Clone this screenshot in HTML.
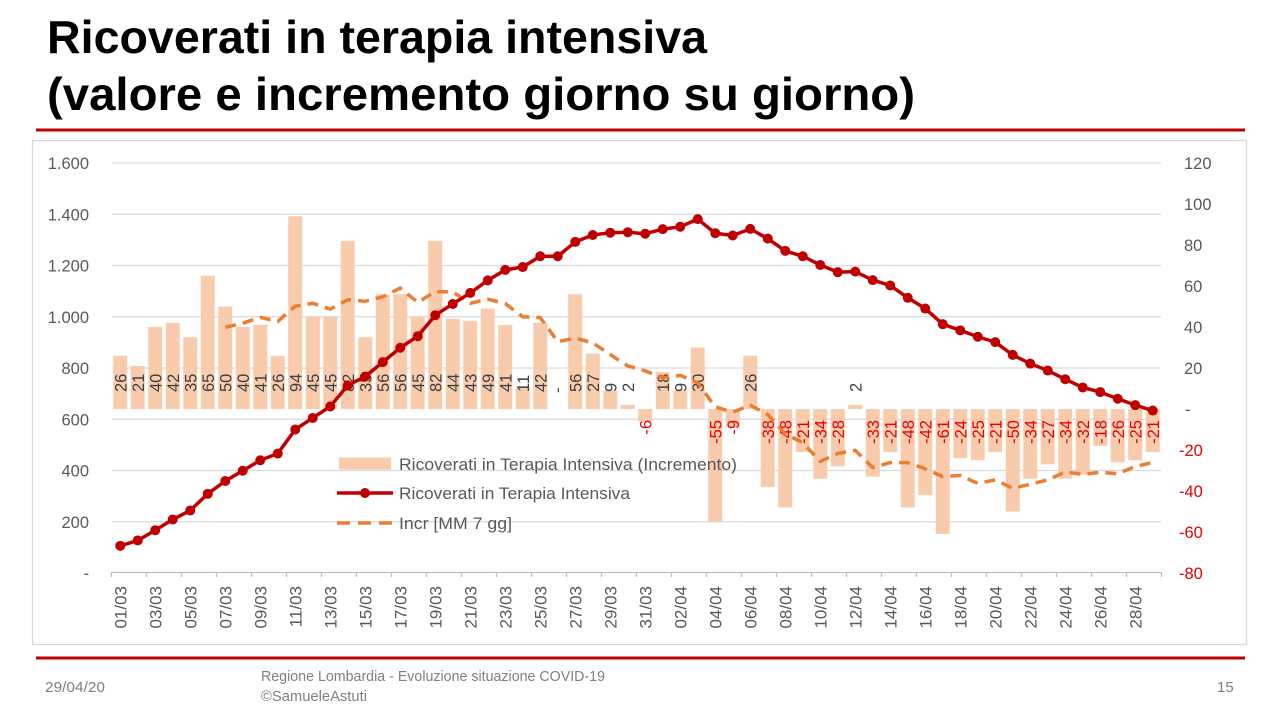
<!DOCTYPE html>
<html><head><meta charset="utf-8"><style>
html,body{margin:0;padding:0;background:#fff;}
svg{display:block;}
</style></head><body>
<svg width="1280" height="720" viewBox="0 0 1280 720" xmlns="http://www.w3.org/2000/svg" font-family="'Liberation Sans', sans-serif">
<rect width="1280" height="720" fill="#fff"/>
<!-- Title -->
<text x="47" y="53" font-size="46" font-weight="bold" fill="#000" textLength="660" lengthAdjust="spacingAndGlyphs">Ricoverati in terapia intensiva</text>
<text x="47" y="110" font-size="46" font-weight="bold" fill="#000" textLength="868" lengthAdjust="spacingAndGlyphs">(valore e incremento giorno su giorno)</text>
<line x1="36" y1="130" x2="1245" y2="130" stroke="#C00000" stroke-width="3"/>
<!-- chart box -->
<rect x="32.5" y="140.5" width="1214" height="504" fill="#fff" stroke="#D9D9D9" stroke-width="1.3"/>
<!-- gridlines -->
<g stroke="#D9D9D9" stroke-width="1.3">
<line x1="111.5" y1="163" x2="1161" y2="163"/>
<line x1="111.5" y1="214.25" x2="1161" y2="214.25"/>
<line x1="111.5" y1="265.5" x2="1161" y2="265.5"/>
<line x1="111.5" y1="316.75" x2="1161" y2="316.75"/>
<line x1="111.5" y1="368" x2="1161" y2="368"/>
<line x1="111.5" y1="419.25" x2="1161" y2="419.25"/>
<line x1="111.5" y1="470.5" x2="1161" y2="470.5"/>
<line x1="111.5" y1="521.75" x2="1161" y2="521.75"/>
</g>
<!-- x axis -->
<g stroke="#BFBFBF" stroke-width="1.3">
<line x1="111.5" y1="572.5" x2="1161.5" y2="572.5"/>
<path d="M111.5 572v5M146.5 572v5M181.5 572v5M216.5 572v5M251.5 572v5M286.5 572v5M321.5 572v5M356.5 572v5M391.5 572v5M426.5 572v5M461.5 572v5M496.5 572v5M531.5 572v5M566.5 572v5M601.5 572v5M636.5 572v5M671.5 572v5M706.5 572v5M741.5 572v5M776.5 572v5M811.5 572v5M846.5 572v5M881.5 572v5M916.5 572v5M951.5 572v5M986.5 572v5M1021.5 572v5M1056.5 572v5M1091.5 572v5M1126.5 572v5M1161.5 572v5"/>
</g>
<!-- left axis labels -->
<g font-size="16.5" fill="#595959" text-anchor="end">
<text x="89" y="169">1.600</text>
<text x="89" y="220.25">1.400</text>
<text x="89" y="271.5">1.200</text>
<text x="89" y="322.75">1.000</text>
<text x="89" y="374">800</text>
<text x="89" y="425.25">600</text>
<text x="89" y="476.5">400</text>
<text x="89" y="527.75">200</text>
<text x="89" y="579">-</text>
</g>
<!-- right axis labels -->
<g font-size="16.5" fill="#595959">
<text x="1184" y="169">120</text>
<text x="1184" y="210">100</text>
<text x="1184" y="251">80</text>
<text x="1184" y="292">60</text>
<text x="1184" y="333">40</text>
<text x="1184" y="374">20</text>
<text x="1185" y="415">-</text>
</g>
<g font-size="16.5" fill="#E60000">
<text x="1179" y="456">-20</text>
<text x="1179" y="497">-40</text>
<text x="1179" y="538">-60</text>
<text x="1179" y="579">-80</text>
</g>
<!-- bars -->
<g fill="#F8CBAD">
<rect x="113.25" y="355.7" width="14" height="53.3"/>
<rect x="130.75" y="365.95" width="14" height="43.05"/>
<rect x="148.25" y="327" width="14" height="82"/>
<rect x="165.75" y="322.9" width="14" height="86.1"/>
<rect x="183.25" y="337.25" width="14" height="71.75"/>
<rect x="200.75" y="275.75" width="14" height="133.25"/>
<rect x="218.25" y="306.5" width="14" height="102.5"/>
<rect x="235.75" y="327" width="14" height="82"/>
<rect x="253.25" y="324.95" width="14" height="84.05"/>
<rect x="270.75" y="355.7" width="14" height="53.3"/>
<rect x="288.25" y="216.3" width="14" height="192.7"/>
<rect x="305.75" y="316.75" width="14" height="92.25"/>
<rect x="323.25" y="316.75" width="14" height="92.25"/>
<rect x="340.75" y="240.9" width="14" height="168.1"/>
<rect x="358.25" y="337.25" width="14" height="71.75"/>
<rect x="375.75" y="294.2" width="14" height="114.8"/>
<rect x="393.25" y="294.2" width="14" height="114.8"/>
<rect x="410.75" y="316.75" width="14" height="92.25"/>
<rect x="428.25" y="240.9" width="14" height="168.1"/>
<rect x="445.75" y="318.8" width="14" height="90.2"/>
<rect x="463.25" y="320.85" width="14" height="88.15"/>
<rect x="480.75" y="308.55" width="14" height="100.45"/>
<rect x="498.25" y="324.95" width="14" height="84.05"/>
<rect x="515.75" y="386.45" width="14" height="22.55"/>
<rect x="533.25" y="322.9" width="14" height="86.1"/>
<rect x="568.25" y="294.2" width="14" height="114.8"/>
<rect x="585.75" y="353.65" width="14" height="55.35"/>
<rect x="603.25" y="390.55" width="14" height="18.45"/>
<rect x="620.75" y="404.9" width="14" height="4.1"/>
<rect x="638.25" y="409" width="14" height="12.3"/>
<rect x="655.75" y="372.1" width="14" height="36.9"/>
<rect x="673.25" y="390.55" width="14" height="18.45"/>
<rect x="690.75" y="347.5" width="14" height="61.5"/>
<rect x="708.25" y="409" width="14" height="112.75"/>
<rect x="725.75" y="409" width="14" height="18.45"/>
<rect x="743.25" y="355.7" width="14" height="53.3"/>
<rect x="760.75" y="409" width="14" height="77.9"/>
<rect x="778.25" y="409" width="14" height="98.4"/>
<rect x="795.75" y="409" width="14" height="43.05"/>
<rect x="813.25" y="409" width="14" height="69.7"/>
<rect x="830.75" y="409" width="14" height="57.4"/>
<rect x="848.25" y="404.9" width="14" height="4.1"/>
<rect x="865.75" y="409" width="14" height="67.65"/>
<rect x="883.25" y="409" width="14" height="43.05"/>
<rect x="900.75" y="409" width="14" height="98.4"/>
<rect x="918.25" y="409" width="14" height="86.1"/>
<rect x="935.75" y="409" width="14" height="125.05"/>
<rect x="953.25" y="409" width="14" height="49.2"/>
<rect x="970.75" y="409" width="14" height="51.25"/>
<rect x="988.25" y="409" width="14" height="43.05"/>
<rect x="1005.75" y="409" width="14" height="102.5"/>
<rect x="1023.25" y="409" width="14" height="69.7"/>
<rect x="1040.75" y="409" width="14" height="55.35"/>
<rect x="1058.25" y="409" width="14" height="69.7"/>
<rect x="1075.75" y="409" width="14" height="65.6"/>
<rect x="1093.25" y="409" width="14" height="36.9"/>
<rect x="1110.75" y="409" width="14" height="53.3"/>
<rect x="1128.25" y="409" width="14" height="51.25"/>
<rect x="1145.75" y="409" width="14" height="43.05"/>
</g>
<!-- positive labels -->
<g font-size="16.5" fill="#404040">
<text transform="translate(126.25,392) rotate(-90)">26</text>
<text transform="translate(143.75,392) rotate(-90)">21</text>
<text transform="translate(161.25,392) rotate(-90)">40</text>
<text transform="translate(178.75,392) rotate(-90)">42</text>
<text transform="translate(196.25,392) rotate(-90)">35</text>
<text transform="translate(213.75,392) rotate(-90)">65</text>
<text transform="translate(231.25,392) rotate(-90)">50</text>
<text transform="translate(248.75,392) rotate(-90)">40</text>
<text transform="translate(266.25,392) rotate(-90)">41</text>
<text transform="translate(283.75,392) rotate(-90)">26</text>
<text transform="translate(301.25,392) rotate(-90)">94</text>
<text transform="translate(318.75,392) rotate(-90)">45</text>
<text transform="translate(336.25,392) rotate(-90)">45</text>
<text transform="translate(353.75,392) rotate(-90)">82</text>
<text transform="translate(371.25,392) rotate(-90)">35</text>
<text transform="translate(388.75,392) rotate(-90)">56</text>
<text transform="translate(406.25,392) rotate(-90)">56</text>
<text transform="translate(423.75,392) rotate(-90)">45</text>
<text transform="translate(441.25,392) rotate(-90)">82</text>
<text transform="translate(458.75,392) rotate(-90)">44</text>
<text transform="translate(476.25,392) rotate(-90)">43</text>
<text transform="translate(493.75,392) rotate(-90)">49</text>
<text transform="translate(511.25,392) rotate(-90)">41</text>
<text transform="translate(528.75,392) rotate(-90)">11</text>
<text transform="translate(546.25,392) rotate(-90)">42</text>
<text transform="translate(562.75,393) rotate(-90)">-</text>
<text transform="translate(581.25,392) rotate(-90)">56</text>
<text transform="translate(598.75,392) rotate(-90)">27</text>
<text transform="translate(616.25,392) rotate(-90)">9</text>
<text transform="translate(633.75,392) rotate(-90)">2</text>
<text transform="translate(668.75,392) rotate(-90)">18</text>
<text transform="translate(686.25,392) rotate(-90)">9</text>
<text transform="translate(703.75,392) rotate(-90)">30</text>
<text transform="translate(756.25,392) rotate(-90)">26</text>
<text transform="translate(861.25,392) rotate(-90)">2</text>
</g>
<!-- negative labels -->
<g font-size="16.5" fill="#E60000" text-anchor="end">
<text transform="translate(651.25,420) rotate(-90)">-6</text>
<text transform="translate(721.25,420) rotate(-90)">-55</text>
<text transform="translate(738.75,420) rotate(-90)">-9</text>
<text transform="translate(773.75,420) rotate(-90)">-38</text>
<text transform="translate(791.25,420) rotate(-90)">-48</text>
<text transform="translate(808.75,420) rotate(-90)">-21</text>
<text transform="translate(826.25,420) rotate(-90)">-34</text>
<text transform="translate(843.75,420) rotate(-90)">-28</text>
<text transform="translate(878.75,420) rotate(-90)">-33</text>
<text transform="translate(896.25,420) rotate(-90)">-21</text>
<text transform="translate(913.75,420) rotate(-90)">-48</text>
<text transform="translate(931.25,420) rotate(-90)">-42</text>
<text transform="translate(948.75,420) rotate(-90)">-61</text>
<text transform="translate(966.25,420) rotate(-90)">-24</text>
<text transform="translate(983.75,420) rotate(-90)">-25</text>
<text transform="translate(1001.25,420) rotate(-90)">-21</text>
<text transform="translate(1018.75,420) rotate(-90)">-50</text>
<text transform="translate(1036.25,420) rotate(-90)">-34</text>
<text transform="translate(1053.75,420) rotate(-90)">-27</text>
<text transform="translate(1071.25,420) rotate(-90)">-34</text>
<text transform="translate(1088.75,420) rotate(-90)">-32</text>
<text transform="translate(1106.25,420) rotate(-90)">-18</text>
<text transform="translate(1123.75,420) rotate(-90)">-26</text>
<text transform="translate(1141.25,420) rotate(-90)">-25</text>
<text transform="translate(1158.75,420) rotate(-90)">-21</text>
</g>
<!-- moving average dashed -->
<polyline fill="none" stroke="#ED7D31" stroke-width="3.5" stroke-dasharray="11 7" stroke-linejoin="round" points="225.25,327.29 242.75,323.19 260.25,317.34 277.75,321.44 295.25,306.21 312.75,303.28 330.25,309.14 347.75,299.76 365.25,301.23 382.75,296.84 400.25,288.05 417.75,302.4 435.25,291.56 452.75,291.86 470.25,303.28 487.75,299.18 505.25,303.57 522.75,316.75 540.25,317.63 557.75,341.64 575.25,338.13 592.75,342.81 610.25,354.53 627.75,365.95 645.25,370.93 662.75,377.96 680.25,375.32 697.75,382.94 715.25,406.95 732.75,412.22 750.25,405.19 767.75,414.56 785.25,433.89 802.75,442.68 820.25,461.42 837.75,453.51 855.25,450.29 872.75,467.57 890.25,462.59 907.75,462.59 925.25,468.74 942.75,476.65 960.25,475.48 977.75,483.39 995.25,479.87 1012.75,488.36 1030.25,484.26 1047.75,479.87 1065.25,471.96 1082.75,474.31 1100.25,472.26 1117.75,473.72 1135.25,466.4 1152.75,462.59"/>
<!-- main line -->
<polyline fill="none" stroke="#C00000" stroke-width="3.5" stroke-linejoin="round" points="120.25,545.84 137.75,540.46 155.25,530.21 172.75,519.44 190.25,510.47 207.75,493.82 225.25,481.01 242.75,470.76 260.25,460.25 277.75,453.59 295.25,429.5 312.75,417.97 330.25,406.44 347.75,385.42 365.25,376.46 382.75,362.11 400.25,347.76 417.75,336.22 435.25,315.21 452.75,303.94 470.25,292.92 487.75,280.36 505.25,269.86 522.75,267.04 540.25,256.27 557.75,256.27 575.25,241.92 592.75,235.01 610.25,232.7 627.75,232.19 645.25,233.73 662.75,229.11 680.25,226.81 697.75,219.12 715.25,233.21 732.75,235.52 750.25,228.86 767.75,238.59 785.25,250.89 802.75,256.27 820.25,264.99 837.75,272.16 855.25,271.65 872.75,280.11 890.25,285.49 907.75,297.79 925.25,308.55 942.75,324.18 960.25,330.33 977.75,336.74 995.25,342.12 1012.75,354.93 1030.25,363.64 1047.75,370.56 1065.25,379.27 1082.75,387.47 1100.25,392.09 1117.75,398.75 1135.25,405.16 1152.75,410.54"/>
<g fill="#C00000">
<circle cx="120.25" cy="545.84" r="5"/><circle cx="137.75" cy="540.46" r="5"/><circle cx="155.25" cy="530.21" r="5"/><circle cx="172.75" cy="519.44" r="5"/><circle cx="190.25" cy="510.47" r="5"/><circle cx="207.75" cy="493.82" r="5"/><circle cx="225.25" cy="481.01" r="5"/><circle cx="242.75" cy="470.76" r="5"/><circle cx="260.25" cy="460.25" r="5"/><circle cx="277.75" cy="453.59" r="5"/>
<circle cx="295.25" cy="429.5" r="5"/><circle cx="312.75" cy="417.97" r="5"/><circle cx="330.25" cy="406.44" r="5"/><circle cx="347.75" cy="385.42" r="5"/><circle cx="365.25" cy="376.46" r="5"/><circle cx="382.75" cy="362.11" r="5"/><circle cx="400.25" cy="347.76" r="5"/><circle cx="417.75" cy="336.22" r="5"/><circle cx="435.25" cy="315.21" r="5"/><circle cx="452.75" cy="303.94" r="5"/>
<circle cx="470.25" cy="292.92" r="5"/><circle cx="487.75" cy="280.36" r="5"/><circle cx="505.25" cy="269.86" r="5"/><circle cx="522.75" cy="267.04" r="5"/><circle cx="540.25" cy="256.27" r="5"/><circle cx="557.75" cy="256.27" r="5"/><circle cx="575.25" cy="241.92" r="5"/><circle cx="592.75" cy="235.01" r="5"/><circle cx="610.25" cy="232.7" r="5"/><circle cx="627.75" cy="232.19" r="5"/>
<circle cx="645.25" cy="233.73" r="5"/><circle cx="662.75" cy="229.11" r="5"/><circle cx="680.25" cy="226.81" r="5"/><circle cx="697.75" cy="219.12" r="5"/><circle cx="715.25" cy="233.21" r="5"/><circle cx="732.75" cy="235.52" r="5"/><circle cx="750.25" cy="228.86" r="5"/><circle cx="767.75" cy="238.59" r="5"/><circle cx="785.25" cy="250.89" r="5"/><circle cx="802.75" cy="256.27" r="5"/>
<circle cx="820.25" cy="264.99" r="5"/><circle cx="837.75" cy="272.16" r="5"/><circle cx="855.25" cy="271.65" r="5"/><circle cx="872.75" cy="280.11" r="5"/><circle cx="890.25" cy="285.49" r="5"/><circle cx="907.75" cy="297.79" r="5"/><circle cx="925.25" cy="308.55" r="5"/><circle cx="942.75" cy="324.18" r="5"/><circle cx="960.25" cy="330.33" r="5"/><circle cx="977.75" cy="336.74" r="5"/>
<circle cx="995.25" cy="342.12" r="5"/><circle cx="1012.75" cy="354.93" r="5"/><circle cx="1030.25" cy="363.64" r="5"/><circle cx="1047.75" cy="370.56" r="5"/><circle cx="1065.25" cy="379.27" r="5"/><circle cx="1082.75" cy="387.47" r="5"/><circle cx="1100.25" cy="392.09" r="5"/><circle cx="1117.75" cy="398.75" r="5"/><circle cx="1135.25" cy="405.16" r="5"/><circle cx="1152.75" cy="410.54" r="5"/>
</g>
<!-- x labels -->
<g font-size="17" fill="#595959" text-anchor="end">
<text transform="translate(126.35,586) rotate(-90)">01/03</text>
<text transform="translate(161.35,586) rotate(-90)">03/03</text>
<text transform="translate(196.35,586) rotate(-90)">05/03</text>
<text transform="translate(231.35,586) rotate(-90)">07/03</text>
<text transform="translate(266.35,586) rotate(-90)">09/03</text>
<text transform="translate(301.35,586) rotate(-90)">11/03</text>
<text transform="translate(336.35,586) rotate(-90)">13/03</text>
<text transform="translate(371.35,586) rotate(-90)">15/03</text>
<text transform="translate(406.35,586) rotate(-90)">17/03</text>
<text transform="translate(441.35,586) rotate(-90)">19/03</text>
<text transform="translate(476.35,586) rotate(-90)">21/03</text>
<text transform="translate(511.35,586) rotate(-90)">23/03</text>
<text transform="translate(546.35,586) rotate(-90)">25/03</text>
<text transform="translate(581.35,586) rotate(-90)">27/03</text>
<text transform="translate(616.35,586) rotate(-90)">29/03</text>
<text transform="translate(651.35,586) rotate(-90)">31/03</text>
<text transform="translate(686.35,586) rotate(-90)">02/04</text>
<text transform="translate(721.35,586) rotate(-90)">04/04</text>
<text transform="translate(756.35,586) rotate(-90)">06/04</text>
<text transform="translate(791.35,586) rotate(-90)">08/04</text>
<text transform="translate(826.35,586) rotate(-90)">10/04</text>
<text transform="translate(861.35,586) rotate(-90)">12/04</text>
<text transform="translate(896.35,586) rotate(-90)">14/04</text>
<text transform="translate(931.35,586) rotate(-90)">16/04</text>
<text transform="translate(966.35,586) rotate(-90)">18/04</text>
<text transform="translate(1001.35,586) rotate(-90)">20/04</text>
<text transform="translate(1036.35,586) rotate(-90)">22/04</text>
<text transform="translate(1071.35,586) rotate(-90)">24/04</text>
<text transform="translate(1106.35,586) rotate(-90)">26/04</text>
<text transform="translate(1141.35,586) rotate(-90)">28/04</text>
</g>
<!-- legend -->
<rect x="339" y="457.5" width="52" height="12" fill="#F8CBAD"/>
<text x="399" y="470" font-size="17" fill="#595959" textLength="338" lengthAdjust="spacingAndGlyphs">Ricoverati in Terapia Intensiva (Incremento)</text>
<line x1="337" y1="493" x2="393" y2="493" stroke="#C00000" stroke-width="3.5"/>
<circle cx="365" cy="493" r="5" fill="#C00000"/>
<text x="399" y="499" font-size="17" fill="#595959" textLength="231" lengthAdjust="spacingAndGlyphs">Ricoverati in Terapia Intensiva</text>
<line x1="337" y1="523" x2="393" y2="523" stroke="#ED7D31" stroke-width="3.5" stroke-dasharray="13 8"/>
<text x="399" y="529" font-size="17" fill="#595959" textLength="113" lengthAdjust="spacingAndGlyphs">Incr [MM 7 gg]</text>
<!-- footer -->
<line x1="36" y1="658" x2="1245" y2="658" stroke="#C00000" stroke-width="3"/>
<text x="45" y="692" font-size="15" fill="#7F7F7F" textLength="60" lengthAdjust="spacingAndGlyphs">29/04/20</text>
<text x="261" y="681" font-size="14.5" fill="#7F7F7F" textLength="344" lengthAdjust="spacingAndGlyphs">Regione Lombardia - Evoluzione situazione COVID-19</text>
<text x="261" y="701" font-size="14.5" fill="#7F7F7F" textLength="106" lengthAdjust="spacingAndGlyphs">©SamueleAstuti</text>
<text x="1217" y="692" font-size="15" fill="#7F7F7F">15</text>
</svg>
</body></html>
